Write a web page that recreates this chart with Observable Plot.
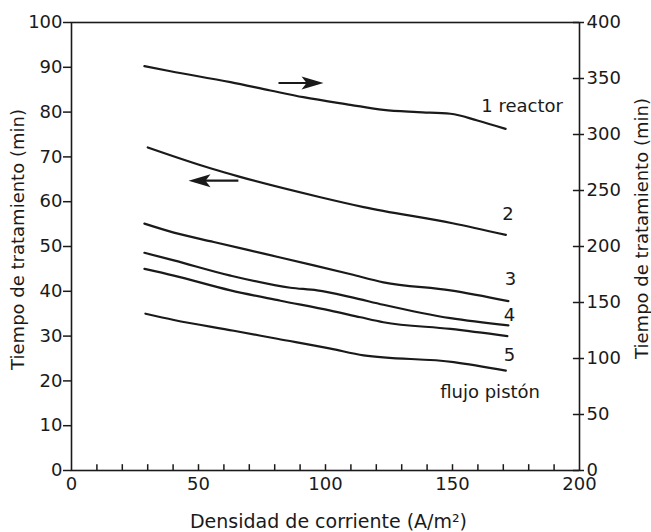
<!DOCTYPE html>
<html>
<head>
<meta charset="utf-8">
<script src="https://cdn.jsdelivr.net/npm/d3@7"></script>
<script src="https://cdn.jsdelivr.net/npm/@observablehq/plot@0.6"></script>
<style>
  html, body { margin: 0; padding: 0; background: #fff; }
  #chart { width: 651px; height: 532px; }
</style>
</head>
<body>
<div id="chart"></div>
<script>
// ---- data ----
const xTicks = [0, 50, 100, 150, 200];
const leftTicks = [0, 10, 20, 30, 40, 50, 60, 70, 80, 90, 100];
const rightTicks = [0, 50, 100, 150, 200, 250, 300, 350, 400];

// curve 1 (right axis, 0–400 min)
const x1 = [28.7, 39, 62.6, 78.3, 91.3, 109.8, 122.8, 136.2, 149.2, 159.8, 170.9];
const y1 = [361, 356.5, 346.7, 339.3, 333.3, 326.5, 322, 320, 318.5, 312.5, 305];
// curves 2–5 (left axis, 0–100 min)
const x2 = [30, 55, 66, 98, 115, 150, 171];
const y2 = [72.1, 67.4, 65.6, 61, 58.8, 55.2, 52.6];
const x3 = [28.7, 40.3, 56, 75.7, 95.4, 110, 122.8, 149.2, 172];
const y3 = [55.1, 53.1, 51, 48.4, 45.8, 43.8, 42, 40.2, 37.8];
const x4 = [28.7, 40.3, 62.6, 86.2, 96.7, 110, 122.8, 149.2, 172];
const y4 = [48.6, 46.9, 43.5, 40.8, 40.2, 38.7, 37.0, 34, 32.4];
const x4b = [28.7, 40.3, 62.6, 82.3, 102, 113.8, 122.8, 149.2, 171.6];
const y4b = [45, 43.5, 40.2, 37.9, 35.7, 34.2, 33.1, 31.6, 30];
const x5 = [29.1, 40.3, 63.9, 81, 102, 115, 150.5, 171];
const y5 = [35, 33.6, 31.2, 29.4, 27.2, 25.7, 24.2, 22.3];

const labelText = ["1 reactor", "2", "3", "4", "5", "flujo pistón"];
const labelX = [177.4, 171.8, 172.8, 172.4, 172.4, 164.8];
const labelY = [81.2, 57.25, 42.7, 34.7, 25.7, 17.5];

// arrows: [x start, x head centre, y]
const arrowRight = {x1: 81.5, x2: 94.9, y: 86.5};
const arrowLeft = {x1: 65.7, x2: 50.4, y: 64.7};

// ---- build tables ----
const pts = (xs, ys, s) => xs.map((x, i) => ({x, y: ys[i], s}));
const leftCurves = [
  ...pts(x2, y2, "2"), ...pts(x3, y3, "3"), ...pts(x4, y4, "4"),
  ...pts(x4b, y4b, "4b"), ...pts(x5, y5, "5")
];
const rightCurve = pts(x1, y1, "1");
const labels = labelText.map((t, i) => ({t, x: labelX[i], y: labelY[i]}));
const arrows = [arrowRight, arrowLeft];

const arrowHead = {
  draw(ctx) {
    ctx.moveTo(11, 0);
    ctx.lineTo(-11, -6.5);
    ctx.lineTo(-6, 0);
    ctx.lineTo(-11, 6.5);
    ctx.closePath();
  }
};

const ink = "#1a1a1a";
const fontFamily = "DejaVu Sans, sans-serif";

const chart = Plot.plot({
  width: 651,
  height: 532,
  marginLeft: 71,
  marginRight: 72,
  marginTop: 22,
  marginBottom: 62,
  style: {fontFamily, fontSize: "18px", color: ink, background: "#fff", overflow: "visible"},
  x: {domain: [0, 200]},
  y: {domain: [0, 100]},
  marks: [
    Plot.frame({stroke: ink, strokeWidth: 1.6}),
    // inward minor ticks on x axis
    Plot.ruleX(d3.range(10, 200, 10), {y1: 0, y2: 1.3, stroke: ink, strokeWidth: 1.5}),
    // inward part of right-axis ticks
    Plot.ruleY(rightTicks.map(v => v / 4), {x1: 197.6, x2: 200, stroke: ink, strokeWidth: 1.5}),
    Plot.axisX({ticks: xTicks, tickSize: 0, tickPadding: 7, label: null, fontSize: 18}),
    Plot.axisY({anchor: "left", ticks: leftTicks, tickSize: 8, tickPadding: 1, label: null, fontSize: 18, strokeWidth: 1.5}),
    Plot.axisY({anchor: "right", ticks: rightTicks.map(v => v / 4), tickFormat: d => String(d * 4),
      tickSize: 4, tickPadding: 3, label: null, fontSize: 18, strokeWidth: 1.5}),
    // curves
    Plot.line(leftCurves, {x: "x", y: "y", z: "s", stroke: ink, strokeWidth: 2.2, curve: "monotone-x"}),
    Plot.line(rightCurve, {x: "x", y: d => d.y / 4, stroke: ink, strokeWidth: 2.2, curve: "monotone-x"}),
    // arrows
    Plot.link(arrows, {x1: "x1", x2: "x2", y1: "y", y2: "y", stroke: ink, strokeWidth: 2.2}),
    Plot.dot(arrows, {x: "x2", y: "y", symbol: arrowHead, fill: ink, stroke: null,
      rotate: d => (d.x2 > d.x1 ? 0 : 180)}),
    // curve labels
    Plot.text(labels, {x: "x", y: "y", text: "t", fontSize: 18, fill: ink}),
    // axis titles
    Plot.text(["Densidad de corriente (A/m²)"], {text: d => d, frameAnchor: "bottom", dx: 3, dy: 57,
      textAnchor: "middle", lineAnchor: "bottom", fontSize: 19, fill: ink}),
    Plot.text(["Tiempo de tratamiento (min)"], {text: d => d, frameAnchor: "left", rotate: -90,
      dx: -60, dy: -7, textAnchor: "middle", lineAnchor: "top", fontSize: 18, fill: ink}),
    Plot.text(["Tiempo de tratamiento (min)"], {text: d => d, frameAnchor: "right", rotate: -90,
      dx: 56, dy: -18, textAnchor: "middle", lineAnchor: "top", fontSize: 18, fill: ink})
  ]
});
document.getElementById("chart").appendChild(chart);
</script>
</body>
</html>
